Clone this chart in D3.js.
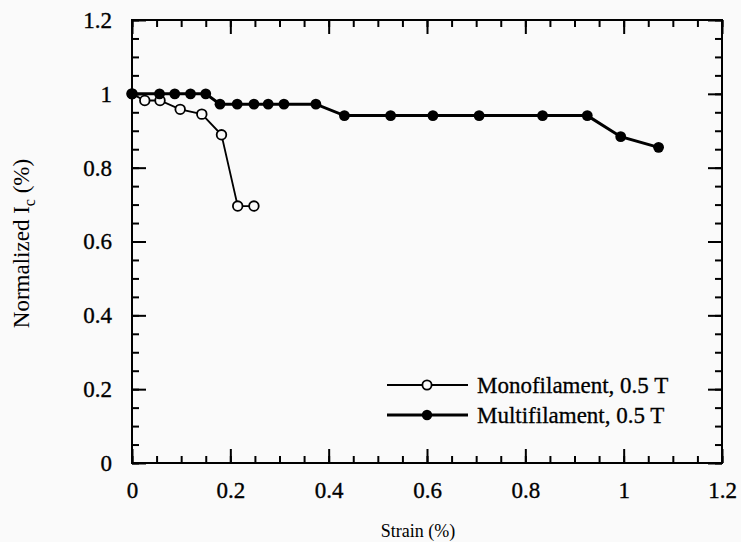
<!DOCTYPE html>
<html>
<head>
<meta charset="utf-8">
<script src="https://cdn.jsdelivr.net/npm/d3@7"></script>
<style>
  html, body { margin: 0; padding: 0; background: #fafafa; }
  svg { display: block; }
  text { font-family: "Liberation Serif", "DejaVu Serif", serif; fill: #000; }
</style>
</head>
<body>
<svg id="chart" width="741" height="542"></svg>
<script>
// ---- data ----
const monoStrain = [0, 0.026, 0.057, 0.098, 0.142, 0.182, 0.215, 0.248];
const monoIc     = [1.0, 0.982, 0.982, 0.958, 0.945, 0.889, 0.696, 0.696];

const multiStrain = [0, 0.056, 0.087, 0.119, 0.150, 0.179, 0.214, 0.248, 0.277, 0.309, 0.374,
                     0.432, 0.526, 0.612, 0.706, 0.835, 0.926, 0.994, 1.071];
const multiIc     = [1.0, 1.0, 1.0, 1.0, 1.0, 0.972, 0.972, 0.972, 0.972, 0.972, 0.972,
                     0.941, 0.941, 0.941, 0.941, 0.941, 0.941, 0.884, 0.855];

const xTickValues = [0, 0.2, 0.4, 0.6, 0.8, 1, 1.2];
const yTickValues = [0, 0.2, 0.4, 0.6, 0.8, 1, 1.2];
const xTickLabels = ["0", "0.2", "0.4", "0.6", "0.8", "1", "1.2"];
const yTickLabels = ["0", "0.2", "0.4", "0.6", "0.8", "1", "1.2"];
const seriesNames = ["Monofilament, 0.5 T", "Multifilament, 0.5 T"];

// ---- layout ----
const svg = d3.select("#chart");
const L = 132, R = 722, T = 20, B = 463;
const x = d3.scaleLinear().domain([0, 1.2]).range([L, R]);
const y = d3.scaleLinear().domain([0, 1.2]).range([B, T]);
const minor = d3.range(0, 1.2001, 0.05);

function styleAxis(g) {
  g.select(".domain").remove();
  g.selectAll(".tick line").attr("stroke", "#000").attr("stroke-width", 2);
}
function styleLabels(g) {
  g.selectAll(".tick text").attr("font-size", 23).attr("fill", "#000")
    .attr("font-family", "Liberation Serif").attr("stroke", "#000").attr("stroke-width", 0.35);
}

// minor ticks, all four sides
svg.append("g").attr("transform", `translate(0,${B})`)
  .call(d3.axisBottom(x).tickValues(minor).tickSize(-7).tickFormat(""))
  .call(styleAxis);
svg.append("g").attr("transform", `translate(0,${T})`)
  .call(d3.axisTop(x).tickValues(minor).tickSize(-7).tickFormat(""))
  .call(styleAxis);
svg.append("g").attr("transform", `translate(${L},0)`)
  .call(d3.axisLeft(y).tickValues(minor).tickSize(-7).tickFormat(""))
  .call(styleAxis);
svg.append("g").attr("transform", `translate(${R},0)`)
  .call(d3.axisRight(y).tickValues(minor).tickSize(-7).tickFormat(""))
  .call(styleAxis);

// major ticks
svg.append("g").attr("transform", `translate(0,${B})`)
  .call(d3.axisBottom(x).tickValues(xTickValues).tickSize(-14).tickPadding(19)
        .tickFormat((d, i) => xTickLabels[i]))
  .call(styleAxis).call(styleLabels);
svg.append("g").attr("transform", `translate(0,${T})`)
  .call(d3.axisTop(x).tickValues(xTickValues).tickSize(-14).tickFormat(""))
  .call(styleAxis);
svg.append("g").attr("transform", `translate(${L},0)`)
  .call(d3.axisLeft(y).tickValues(yTickValues).tickSize(-14).tickPadding(20)
        .tickFormat((d, i) => yTickLabels[i]))
  .call(styleAxis).call(styleLabels);
svg.append("g").attr("transform", `translate(${R},0)`)
  .call(d3.axisRight(y).tickValues(yTickValues).tickSize(-14).tickFormat(""))
  .call(styleAxis);

// frame
svg.append("rect").attr("x", L).attr("y", T).attr("width", R - L).attr("height", B - T)
  .attr("fill", "none").attr("stroke", "#000").attr("stroke-width", 2);

// axis titles
svg.append("text").attr("x", (L + R) / 2 - 9).attr("y", 537).attr("text-anchor", "middle")
  .attr("font-size", 18).text("Strain (%)");
const yt = svg.append("text").attr("transform", `translate(29,${(T + B) / 2 + 2}) rotate(-90)`)
  .attr("text-anchor", "middle").attr("font-size", 23);
yt.append("tspan").text("Normalized I");
yt.append("tspan").attr("font-size", 16).attr("dy", 6).text("c");
yt.append("tspan").attr("dy", -6).text(" (%)");

// series
const line = d3.line().x(d => x(d[0])).y(d => y(d[1]));
const mono = monoStrain.map((s, i) => [s, monoIc[i]]);
const multi = multiStrain.map((s, i) => [s, multiIc[i]]);

svg.append("path").datum(mono).attr("d", line).attr("fill", "none")
  .attr("stroke", "#000").attr("stroke-width", 1.8);
svg.append("g").selectAll("circle").data(mono).join("circle")
  .attr("cx", d => x(d[0])).attr("cy", d => y(d[1])).attr("r", 4.8)
  .attr("fill", "#fafafa").attr("stroke", "#000").attr("stroke-width", 1.8);

svg.append("path").datum(multi).attr("d", line).attr("fill", "none")
  .attr("stroke", "#000").attr("stroke-width", 3);
svg.append("g").selectAll("circle").data(multi).join("circle")
  .attr("cx", d => x(d[0])).attr("cy", d => y(d[1])).attr("r", 5.4)
  .attr("fill", "#000");

// legend
const leg = [{ y: 385, open: true }, { y: 415, open: false }];
leg.forEach((l, i) => {
  svg.append("line").attr("x1", 387).attr("x2", 468).attr("y1", l.y).attr("y2", l.y)
    .attr("stroke", "#000").attr("stroke-width", l.open ? 1.8 : 3);
  svg.append("circle").attr("cx", 427).attr("cy", l.y).attr("r", l.open ? 4.6 : 5.2)
    .attr("fill", l.open ? "#fafafa" : "#000").attr("stroke", "#000")
    .attr("stroke-width", l.open ? 1.8 : 0);
  svg.append("text").attr("x", 477).attr("y", l.y + 8).attr("font-size", 23)
    .attr("stroke", "#000").attr("stroke-width", 0.3)
    .text(seriesNames[i]);
});
</script>
</body>
</html>
